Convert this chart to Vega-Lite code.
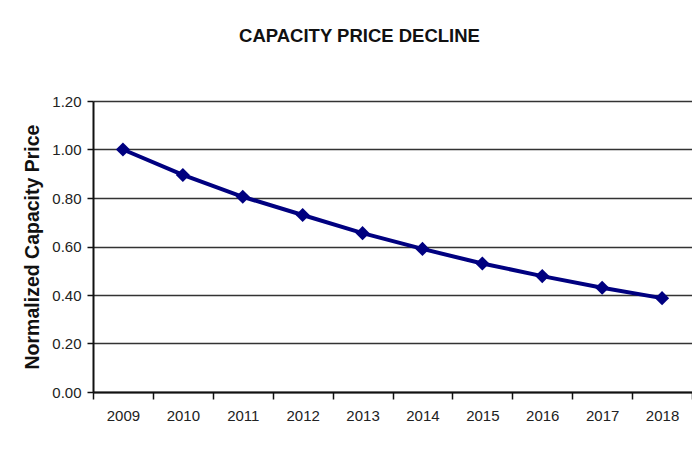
{
  "$schema": "https://vega.github.io/schema/vega-lite/v6.json",
  "autosize": {"type": "none"},
  "width": 599,
  "height": 291,
  "padding": {"left": 93, "top": 101, "right": 0, "bottom": 63},
  "background": "white",
  "title": {
    "text": "CAPACITY PRICE DECLINE",
    "font": "Liberation Sans",
    "fontSize": 18.5,
    "fontWeight": "bold",
    "color": "#111111",
    "anchor": "middle",
    "dx": -33,
    "offset": 49
  },
  "data": {
    "values": [
      {"year": "2009", "price": 1.0},
      {"year": "2010", "price": 0.895},
      {"year": "2011", "price": 0.805},
      {"year": "2012", "price": 0.73},
      {"year": "2013", "price": 0.655},
      {"year": "2014", "price": 0.59},
      {"year": "2015", "price": 0.53},
      {"year": "2016", "price": 0.478},
      {"year": "2017", "price": 0.43},
      {"year": "2018", "price": 0.387}
    ]
  },
  "encoding": {
    "x": {
      "field": "year",
      "type": "ordinal",
      "scale": {"type": "band", "paddingInner": 0, "paddingOuter": 0},
      "axis": {
        "title": null,
        "labelAngle": 0,
        "tickBand": "extent",
        "tickSize": 7,
        "tickColor": "#111111",
        "tickWidth": 1.5,
        "domainColor": "#111111",
        "domainWidth": 2,
        "labelFont": "Liberation Sans",
        "labelFontSize": 15,
        "labelColor": "#222222",
        "labelPadding": 9,
        "grid": false
      }
    },
    "y": {
      "field": "price",
      "type": "quantitative",
      "scale": {"domain": [0, 1.2], "nice": false},
      "axis": {
        "title": "Normalized Capacity Price",
        "titleFont": "Liberation Sans",
        "titleFontSize": 19.5,
        "titleFontWeight": "bold",
        "titleColor": "#111111",
        "titlePadding": 9,
        "values": [0, 0.2, 0.4, 0.6, 0.8, 1.0, 1.2],
        "format": ".2f",
        "tickSize": 6,
        "tickColor": "#111111",
        "tickWidth": 1.5,
        "domainColor": "#111111",
        "domainWidth": 2,
        "labelFont": "Liberation Sans",
        "labelFontSize": 15,
        "labelColor": "#222222",
        "labelPadding": 6,
        "grid": true,
        "gridColor": "#333333",
        "gridWidth": 1.5
      }
    }
  },
  "layer": [
    {
      "mark": {"type": "line", "color": "#000080", "strokeWidth": 4}
    },
    {
      "mark": {"type": "point", "shape": "diamond", "filled": true, "color": "#000080", "size": 200, "opacity": 1}
    }
  ],
  "config": {"view": {"stroke": null}}
}
